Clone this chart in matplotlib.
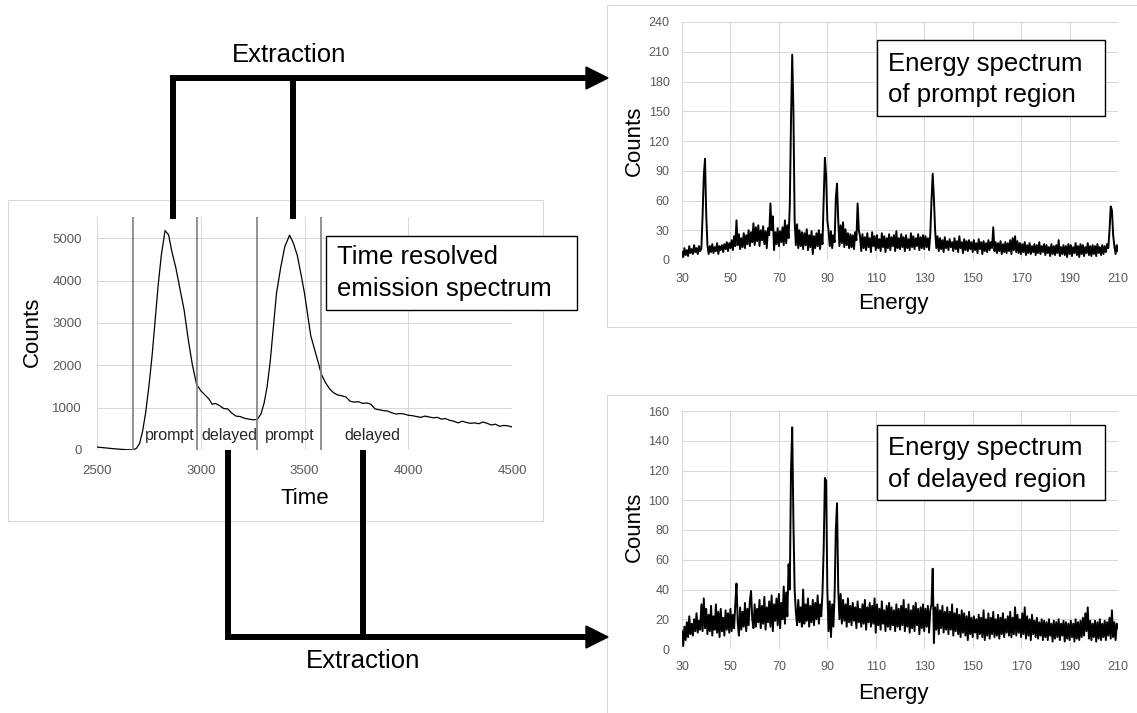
import matplotlib
matplotlib.use("Agg")
import matplotlib.pyplot as plt
from matplotlib.patches import Rectangle, Polygon
import numpy as np

plt.rcParams['font.family'] = ['Liberation Sans', 'DejaVu Sans']

W, H = 1137, 713  # canvas size in pixels

# ---- time resolved emission spectrum ----
time = [2500, 2540, 2580, 2620, 2650, 2675, 2690, 2705, 2720, 2735,
        2750, 2765, 2780, 2795, 2810, 2828, 2845, 2860, 2880, 2900,
        2920, 2940, 2960, 2980, 3000, 3020, 3040, 3055, 3070, 3090,
        3110, 3130, 3150, 3170, 3190, 3210, 3230, 3250, 3272, 3290,
        3305, 3320, 3335, 3350, 3365, 3385, 3405, 3428, 3445, 3465,
        3485, 3500, 3515, 3530, 3550, 3570, 3580, 3600, 3620, 3640,
        3660, 3680, 3700, 3720, 3740, 3760, 3780, 3800, 3820, 3840,
        3860, 3880, 3900, 3920, 3940, 3960, 3980, 4000, 4020, 4040,
        4060, 4080, 4100, 4120, 4140, 4160, 4180, 4200, 4220, 4240,
        4260, 4280, 4300, 4320, 4340, 4360, 4380, 4400, 4420, 4440,
        4460, 4480, 4500]
time_counts = [70, 50, 30, 15, 5, 5, 40, 150, 450, 900,
               1500, 2200, 3050, 3900, 4600, 5180, 5080, 4700, 4300, 3800,
               3300, 2600, 2000, 1550, 1400, 1300, 1200, 1080, 1100, 1050,
               980, 970, 870, 800, 790, 750, 730, 715, 720, 850,
               1100, 1500, 2100, 2900, 3700, 4300, 4800, 5070, 4900, 4600,
               4100, 3700, 3200, 2700, 2350, 2000, 1800, 1600, 1450, 1350,
               1300, 1280, 1250, 1150, 1130, 1140, 1100, 1110, 1080, 970,
               950, 930, 920, 880, 850, 860, 850, 820, 810, 790,
               770, 800, 780, 760, 770, 730, 740, 700, 680, 640,
               680, 650, 630, 640, 620, 660, 630, 590, 610, 560,
               580, 570, 545]
gate_edges = [2675, 2982, 3272, 3580]
gate_names = ['prompt', 'delayed', 'prompt', 'delayed']
gate_label_x = [2850, 3140, 3430, 3828]

# ---- energy spectra, one value every 0.5 energy from 30 to 210 ----
prompt_counts = [
    8, 3, 12, 5, 10, 4, 14, 7, 11, 6, 15, 8, 12, 6, 14, 9, 12, 45, 85, 102,
    46, 15, 6, 14, 8, 16, 7, 13, 9, 17, 6, 14, 10, 15, 8, 16, 11, 18, 9, 17,
    12, 20, 10, 24, 14, 40, 15, 26, 11, 22, 13, 27, 12, 25, 16, 30, 14, 28, 18, 37,
    15, 33, 19, 35, 14, 30, 20, 34, 16, 29, 12, 32, 25, 57, 30, 44, 10, 28, 16, 32,
    14, 29, 18, 33, 15, 40, 17, 35, 22, 55, 140, 207, 150, 40, 15, 36, 12, 30, 14, 28,
    11, 27, 15, 31, 10, 25, 13, 29, 6, 24, 12, 27, 14, 30, 11, 26, 16, 62, 103, 85,
    40, 30, 14, 29, 12, 25, 18, 62, 77, 40, 14, 35, 17, 38, 13, 31, 15, 27, 12, 26,
    13, 25, 11, 28, 20, 57, 30, 24, 9, 26, 12, 23, 10, 27, 13, 22, 8, 28, 14, 24,
    10, 25, 12, 21, 9, 27, 13, 24, 8, 22, 12, 26, 10, 23, 14, 25, 9, 29, 12, 22,
    11, 26, 13, 23, 9, 25, 12, 21, 10, 27, 13, 24, 11, 22, 14, 26, 10, 23, 12, 25,
    11, 24, 13, 22, 10, 26, 60, 87, 62, 30, 12, 24, 9, 22, 11, 20, 8, 23, 12, 19,
    10, 21, 13, 18, 9, 22, 11, 19, 8, 24, 12, 18, 7, 21, 10, 19, 9, 20, 11, 18,
    8, 20, 10, 17, 7, 21, 11, 18, 6, 19, 9, 17, 8, 20, 10, 18, 12, 33, 9, 18,
    7, 17, 9, 19, 6, 16, 8, 18, 7, 17, 9, 20, 6, 22, 10, 24, 8, 19, 7, 17,
    6, 16, 8, 18, 5, 15, 7, 17, 6, 14, 8, 16, 5, 15, 7, 18, 6, 14, 8, 16,
    5, 15, 7, 13, 4, 16, 6, 14, 5, 15, 7, 20, 4, 13, 6, 15, 5, 14, 3, 16,
    6, 15, 4, 13, 7, 17, 5, 14, 3, 16, 6, 15, 4, 13, 7, 17, 5, 14, 4, 15,
    6, 14, 4, 16, 7, 13, 5, 15, 6, 14, 8, 16, 12, 30, 54, 50, 25, 14, 6, 15,
    9]
delayed_counts = [
    12, 2, 15, 6, 18, 8, 22, 10, 17, 9, 20, 12, 24, 11, 19, 13, 30, 12, 34, 14,
    27, 10, 23, 12, 29, 9, 22, 13, 30, 11, 25, 8, 27, 12, 21, 9, 26, 13, 24, 11,
    27, 12, 23, 14, 30, 44, 18, 9, 28, 13, 25, 15, 31, 12, 27, 16, 32, 39, 20, 14,
    30, 15, 27, 18, 33, 14, 29, 17, 35, 13, 28, 18, 32, 15, 36, 12, 30, 19, 34, 16,
    37, 14, 31, 20, 42, 17, 38, 22, 57, 40, 120, 149, 85, 40, 25, 16, 33, 18, 28, 15,
    40, 17, 30, 19, 34, 15, 29, 18, 33, 16, 31, 20, 36, 17, 30, 22, 38, 68, 115, 113,
    40, 12, 32, 8, 30, 15, 36, 80, 98, 40, 20, 37, 17, 33, 19, 30, 15, 34, 18, 29,
    16, 31, 19, 28, 14, 32, 18, 27, 15, 30, 17, 33, 13, 28, 18, 31, 15, 29, 17, 34,
    11, 30, 16, 27, 13, 32, 17, 26, 12, 29, 15, 31, 13, 28, 16, 26, 12, 30, 15, 27,
    13, 29, 16, 33, 12, 27, 15, 30, 11, 26, 14, 29, 12, 31, 16, 27, 10, 28, 14, 30,
    12, 27, 15, 29, 11, 26, 30, 54, 4, 28, 13, 30, 10, 26, 14, 29, 11, 25, 13, 28,
    10, 25, 13, 30, 9, 24, 12, 27, 10, 23, 8, 26, 11, 24, 9, 22, 6, 25, 10, 21,
    8, 22, 11, 20, 7, 23, 10, 21, 8, 26, 6, 20, 9, 24, 7, 21, 10, 25, 8, 20,
    9, 23, 7, 21, 10, 24, 8, 20, 11, 22, 9, 25, 8, 21, 10, 28, 9, 23, 11, 20,
    8, 24, 10, 28, 7, 22, 9, 20, 6, 23, 10, 19, 8, 21, 7, 18, 9, 20, 6, 19,
    8, 18, 6, 20, 9, 17, 5, 19, 7, 18, 8, 20, 6, 17, 9, 19, 5, 18, 7, 17,
    6, 19, 8, 17, 5, 20, 7, 18, 6, 19, 8, 21, 9, 24, 12, 28, 7, 19, 6, 17,
    8, 19, 5, 18, 7, 20, 6, 17, 8, 19, 6, 18, 9, 21, 7, 26, 8, 18, 6, 17,
    14]
energy = np.arange(30, 210.5, 0.5)


def rect(l, t, r, b):
    # pixel box (left, top, right, bottom) -> figure fraction
    return [l / W, 1 - b / H, (r - l) / W, (b - t) / H]


tick_col = '#595959'
grid_col = '#d9d9d9'

fig = plt.figure(figsize=(W / 100, H / 100), dpi=100)
fig.patch.set_facecolor('white')

# left: time resolved spectrum
ax = fig.add_axes(rect(97, 217, 512, 450))
ax.plot(time, time_counts, color='black', lw=0.9)
for xe in gate_edges:
    ax.axvline(xe, color='#7f7f7f', lw=1.2)
for xt, name in zip(gate_label_x, gate_names):
    ax.text(xt, 240, name, ha='center', va='baseline', fontsize=11.5, color='#262626')
ax.set_xlim(2500, 4500)
ax.set_ylim(0, 5500)
ax.set_xticks(range(2500, 4501, 500))
ax.set_yticks(range(0, 5001, 1000))
ax.tick_params(length=0, labelsize=9.5, colors=tick_col)
ax.tick_params(axis='y', pad=11)
ax.tick_params(axis='x', pad=11)
ax.grid(color=grid_col, lw=0.75)
ax.set_axisbelow(True)
for s in ax.spines.values():
    s.set_visible(False)

# right: energy spectra
spectra = [(prompt_counts, rect(682, 22, 1118, 260), 240, 30),
           (delayed_counts, rect(682, 411, 1118, 649), 160, 20)]
for counts, pos, ymax, ystep in spectra:
    ea = fig.add_axes(pos)
    ea.plot(energy, counts, color='black', lw=1.4)
    ea.set_xlim(30, 210)
    ea.set_ylim(0, ymax)
    ea.set_xticks(range(30, 211, 20))
    ea.set_yticks(range(0, ymax + 1, ystep))
    ea.tick_params(length=0, labelsize=9, colors=tick_col)
    ea.tick_params(axis='y', pad=9)
    ea.tick_params(axis='x', pad=9)
    ea.grid(color=grid_col, lw=0.75)
    ea.set_axisbelow(True)
    for s in ea.spines.values():
        s.set_visible(False)

# overlay in pixel coordinates for frames, boxes and arrows
ov = fig.add_axes([0, 0, 1, 1], zorder=10)
ov.set_xlim(0, W)
ov.set_ylim(H, 0)
ov.axis('off')

for l, t, r, b in [(8, 200, 543, 521), (607, 5, 1145, 327), (607, 395, 1145, 725)]:
    ov.add_patch(Rectangle((l, t), r - l, b - t, fill=False, ec=grid_col, lw=0.75))

# axis labels
ov.text(32, 332, 'Counts', rotation=90, ha='center', va='center', fontsize=16)
ov.text(305, 498, 'Time', ha='center', va='center', fontsize=16)
for yc, ye in [(141, 304), (527, 694)]:
    ov.text(634, yc, 'Counts', rotation=90, ha='center', va='center', fontsize=16)
    ov.text(893, ye, 'Energy', ha='center', va='center', fontsize=16)

# text boxes
boxes = [((326, 236, 577, 310), 337, ['Time resolved', 'emission spectrum'], (264, 296)),
         ((877, 40, 1105, 116), 888, ['Energy spectrum', 'of prompt region'], (71, 102)),
         ((877, 425, 1105, 500), 888, ['Energy spectrum', 'of delayed region'], (455, 487))]
for (l, t, r, b), tx, lines, bases in boxes:
    ov.add_patch(Rectangle((l, t), r - l, b - t, fc='white', ec='black', lw=1.0))
    for line, yb in zip(lines, bases):
        ov.text(tx, yb, line, ha='left', va='baseline', fontsize=18.5)

# extraction arrows
arrow_kw = dict(color='black', lw=4.3, solid_joinstyle='miter', solid_capstyle='butt')
ov.plot([173, 173, 588], [219, 78, 78], **arrow_kw)
ov.plot([293, 293], [219, 78], **arrow_kw)
ov.add_patch(Polygon([[586, 67], [608, 78], [586, 89]], closed=True, color='black'))
ov.text(289, 55, 'Extraction', ha='center', va='center', fontsize=18.5)

ov.plot([228, 228, 588], [450, 637, 637], **arrow_kw)
ov.plot([363, 363], [450, 637], **arrow_kw)
ov.add_patch(Polygon([[586, 626], [608, 637], [586, 648]], closed=True, color='black'))
ov.text(363, 661, 'Extraction', ha='center', va='center', fontsize=18.5)

fig.savefig('out.png', dpi=100, facecolor='white')
